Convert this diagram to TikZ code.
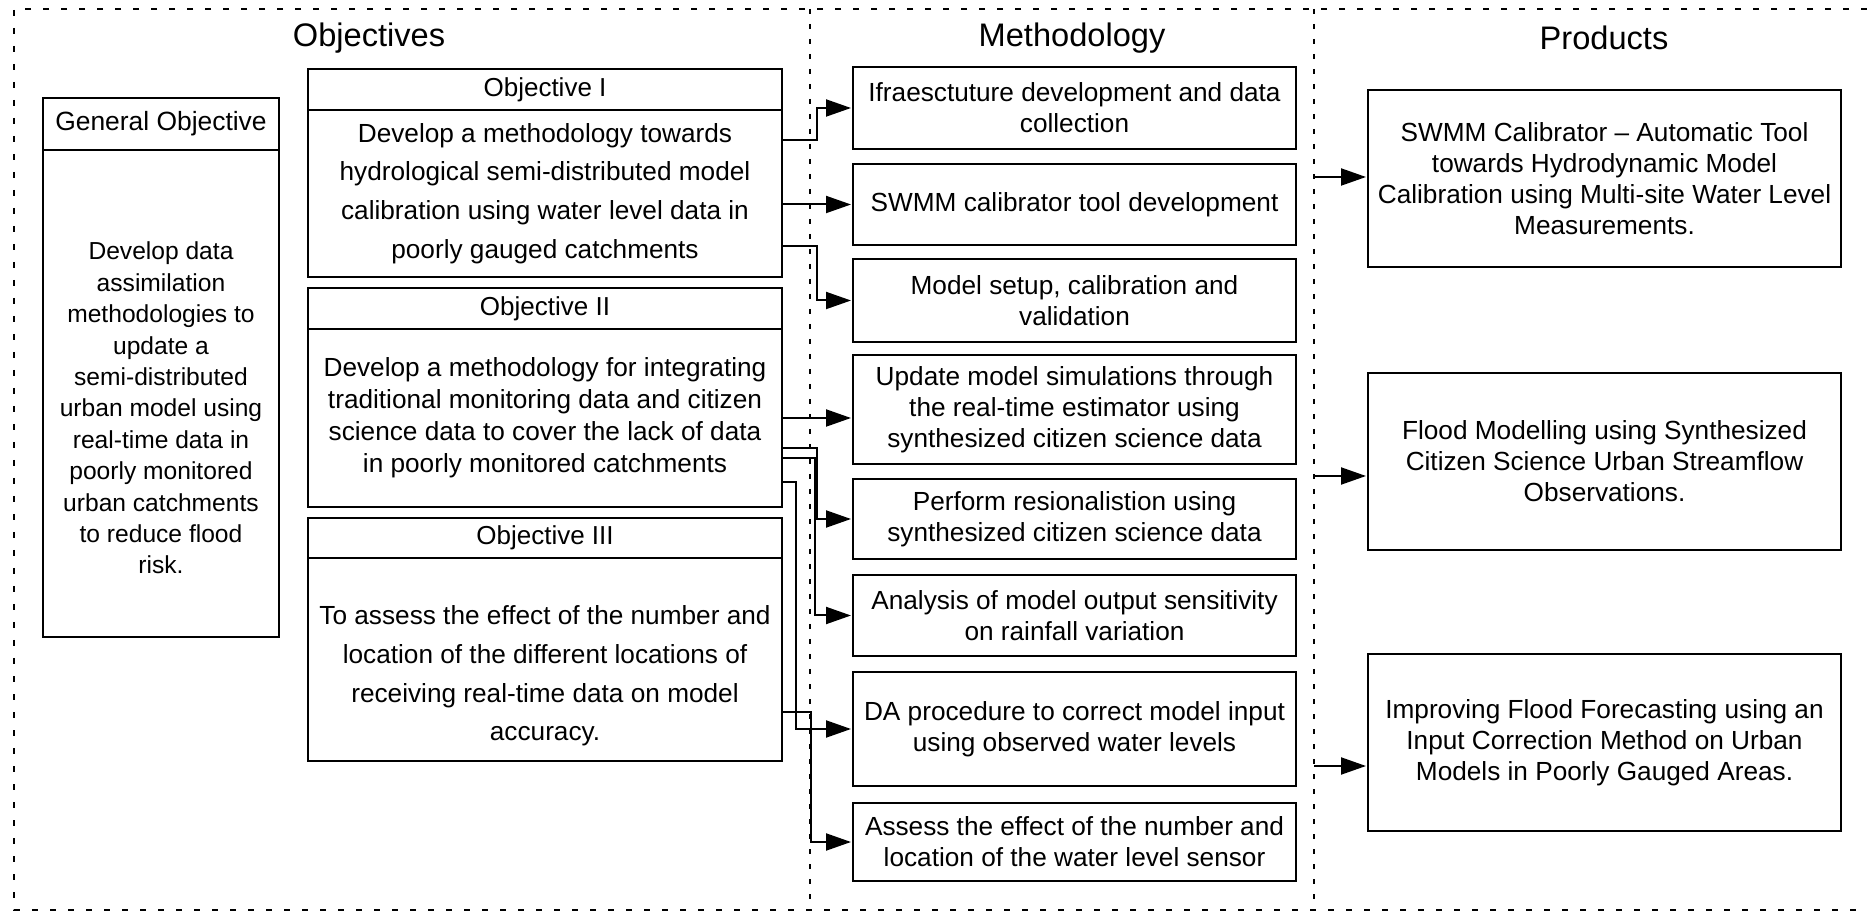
\documentclass[tikz,border=0pt]{standalone}
\usepackage{fontspec}
\setmainfont{Liberation Sans}
\usetikzlibrary{positioning,arrows.meta}
\tikzset{
>={Triangle[length=12.5pt,width=8.5pt]},
box/.style={draw, line width=1.2pt, align=center, inner sep=0pt, outer sep=0pt},
methbox/.style={box, anchor=north west, minimum width=221.5pt, font=\fontsize{13.1}{15.5}\selectfont},
prodbox/.style={box, anchor=north west, minimum width=236.5pt, minimum height=88.5pt, font=\fontsize{13.1}{15.5}\selectfont},
objhead/.style={box, anchor=north west, minimum width=237pt, minimum height=20.5pt, font=\fontsize{13}{15}\selectfont},
objbody/.style={box, minimum width=237pt, font=\fontsize{13.1}{19.3}\selectfont},
title/.style={font=\fontsize{16.3}{19}\selectfont},
conn/.style={->, line width=1pt, shorten >=1pt},
frame/.style={line width=1.2pt, dash pattern=on 3pt off 6pt},
divider/.style={line width=1.2pt, dash pattern=on 2.5pt off 5pt},
}

\begin{document}
\begin{tikzpicture}[x=0.5pt,y=-0.5pt]
    \useasboundingbox (0,0) rectangle (1867,913);

    % frame and columns
    \draw[frame] (1867,9) -- (14,9) -- (14,910) -- (1867,910);
    \draw[divider] (810,9) -- (810,910);
    \draw[divider] (1314,9) -- (1314,910);

    \node[title] (tobj) at (369,38) {Objectives};
    \node[title] (tmeth) at (1072,38) {Methodology};
    \node[title] (tprod) at (1604,38) {Products};

    % general objective
    \node[box, anchor=north west, minimum width=118pt, minimum height=26pt,
          font=\fontsize{13.2}{15}\selectfont] (genhead) at (43,98) {General Objective};
    \node[box, minimum width=118pt, minimum height=243.5pt, below=0pt of genhead,
          font=\fontsize{12.3}{15.7}\selectfont] (gen)
        {\rule{0pt}{23.5pt}Develop data\\assimilation\\methodologies to\\update a\\semi-distributed\\urban model using\\real-time data in\\poorly monitored\\urban catchments\\to reduce flood\\risk.};

    % objectives
    \node[objhead] (obj1head) at (308,69) {Objective I};
    \node[objbody, minimum height=83.5pt, below=0pt of obj1head] (obj1)
        {Develop a methodology towards\\hydrological semi-distributed model\\calibration using water level data in\\poorly gauged catchments};
    \node[objhead] (obj2head) at (308,288) {Objective II};
    \node[objbody, minimum height=89pt, below=0pt of obj2head, font=\fontsize{13.1}{16}\selectfont] (obj2)
        {Develop a methodology for integrating\\traditional monitoring data and citizen\\science data to cover the lack of data\\in poorly monitored catchments};
    \node[objhead, minimum height=20pt] (obj3head) at (308,518) {Objective III};
    \node[objbody, minimum height=101.5pt, below=0pt of obj3head] (obj3)
        {\rule{0pt}{26pt}To assess the effect of the number and\\location of the different locations of\\receiving real-time data on model\\accuracy.};

    % methodology
    \node[methbox, minimum height=41pt] (m1) at (853,67) {Ifraesctuture development and data\\collection};
    \node[methbox, minimum height=40.5pt] (m2) at (853,164) {SWMM calibrator tool development};
    \node[methbox, minimum height=41.5pt] (m3) at (853,259) {Model setup, calibration and\\validation};
    \node[methbox, minimum height=54.5pt] (m4) at (853,355) {Update model simulations through\\the real-time estimator using\\synthesized citizen science data};
    \node[methbox, minimum height=40pt] (m5) at (853,479) {Perform resionalistion using\\synthesized citizen science data};
    \node[methbox, minimum height=40.5pt] (m6) at (853,575) {Analysis of model output sensitivity\\on rainfall variation};
    \node[methbox, minimum height=57pt] (m7) at (853,672) {DA procedure to correct model input\\using observed water levels};
    \node[methbox, minimum height=39pt] (m8) at (853,803) {Assess the effect of the number and\\location of the water level sensor};

    % products
    \node[prodbox] (p1) at (1368,90) {SWMM Calibrator -- Automatic Tool\\towards Hydrodynamic Model\\Calibration using Multi-site Water Level\\Measurements.};
    \node[prodbox] (p2) at (1368,373) {Flood Modelling using Synthesized\\Citizen Science Urban Streamflow\\Observations.};
    \node[prodbox] (p3) at (1368,654) {Improving Flood Forecasting using an\\Input Correction Method on Urban\\Models in Poorly Gauged Areas.};

    % objectives to methodology
    \draw[conn] ([yshift=26.75pt]obj1.east) -- ++(17.5pt,0) |- (m1.west);
    \draw[conn] (obj1.east |- m2.west) -- (m2.west);
    \draw[conn] ([yshift=-26.25pt]obj1.east) -- ++(17.5pt,0) |- (m3.west);
    \draw[conn] (obj2.east) -- (obj2.east -| m4.west);
    \draw[conn] ([yshift=-15pt]obj2.east) -- ++(17.5pt,0) |- (m5.west);
    \draw[conn] ([yshift=-20pt]obj2.east) -- ++(16.5pt,0) |- (m6.west);
    \draw[conn] ([yshift=-32pt]obj2.east) -- ++(7pt,0) |- (m7.west);
    \draw[conn] ([yshift=-26.25pt]obj3.east) -- ++(14.5pt,0) |- (m8.west);

    % methodology to products
    \coordinate (d1) at (1314,177);
    \coordinate (d2) at (1314,476);
    \coordinate (d3) at (1314,766);
    \draw[conn] (d1) -- (d1 -| p1.west);
    \draw[conn] (d2) -- (d2 -| p2.west);
    \draw[conn] (d3) -- (d3 -| p3.west);

\end{tikzpicture}
\end{document}
